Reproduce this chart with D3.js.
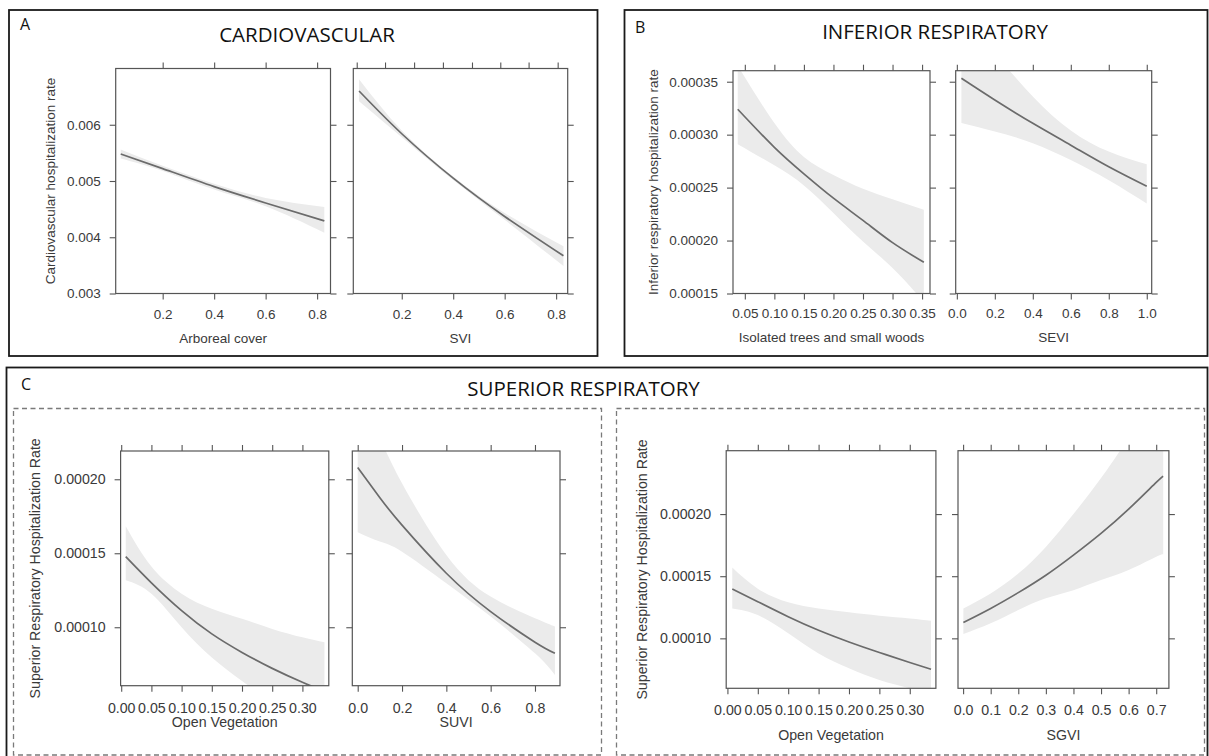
<!DOCTYPE html>
<html><head><meta charset="utf-8">
<script src="https://cdn.jsdelivr.net/npm/d3@7/dist/d3.min.js"></script>
<style>body{margin:0;background:#fff}svg{display:block}</style>
</head><body>
<svg id="chart" width="1209" height="756"></svg>
<script>
// ---------------- DATA ----------------
// A: Cardiovascular
const a1X   = [0.037, 0.2, 0.4, 0.6, 0.828];
const a1Fit = [0.00548, 0.00522, 0.00490, 0.00461, 0.00429];
const a1Lo  = [0.00540, 0.00518, 0.00485, 0.00455, 0.00408];
const a1Hi  = [0.00556, 0.00527, 0.00495, 0.00470, 0.00454];
const a2X   = [0.034, 0.2, 0.4, 0.6, 0.8285];
const a2Fit = [0.00660, 0.00584, 0.00505, 0.00437, 0.00367];
const a2Lo  = [0.00642, 0.00578, 0.00502, 0.00431, 0.00349];
const a2Hi  = [0.00681, 0.00590, 0.00508, 0.00443, 0.00384];
const aXTicks = [0.2, 0.4, 0.6, 0.8];
const a2TopTicks = [0.025, 0.135, 0.248, 0.360, 0.473, 0.583, 0.693, 0.806];
const aYTicks = [0.003, 0.004, 0.005, 0.006];

// B: Inferior respiratory
const b1X   = [0.038, 0.10, 0.15, 0.20, 0.25, 0.30, 0.353];
const b1Fit = [0.000324, 0.000288, 0.000263, 0.000240, 0.000219, 0.000198, 0.0001795];
const b1Lo  = [0.000291, 0.000271, 0.000252, 0.000226, 0.000199, 0.000174, 0.000142];
const b1Hi  = [0.000365, 0.000311, 0.000279, 0.000262, 0.000249, 0.000239, 0.000229];
const b2X   = [0.024, 0.2, 0.4, 0.6, 0.8, 1.0];
const b2Fit = [0.0003532, 0.0003327, 0.0003107, 0.0002901, 0.0002697, 0.0002513];
const b2Lo  = [0.000311, 0.000303, 0.000292, 0.000276, 0.000257, 0.000235];
const b2Hi  = [0.000400, 0.000375, 0.000336, 0.000304, 0.000284, 0.000272];
const b1XTicks = [0.05, 0.10, 0.15, 0.20, 0.25, 0.30, 0.35];
const b2XTicks = [0.0, 0.2, 0.4, 0.6, 0.8, 1.0];
const bYTicks = [0.00015, 0.00020, 0.00025, 0.00030, 0.00035];

// C: Superior respiratory (left block)
const c1X   = [0.0075, 0.05, 0.10, 0.15, 0.20, 0.25, 0.30, 0.3365];
const c1Fit = [0.0001477, 0.0001300, 0.0001112, 0.0000955, 0.0000830, 0.0000722, 0.0000628, 0.0000567];
const c1Lo  = [0.0001318, 0.0001227, 0.0001000, 0.0000795, 0.0000636, 0.0000500, 0.0000400, 0.0000350];
const c1Hi  = [0.0001682, 0.0001410, 0.0001227, 0.0001125, 0.0001057, 0.0000989, 0.0000932, 0.0000898];
const c2X   = [0.0, 0.1, 0.2, 0.4, 0.6, 0.8, 0.89];
const c2Fit = [0.000208, 0.0001875, 0.000169, 0.0001365, 0.0001106, 0.0000899, 0.0000824];
const c2Lo  = [0.0001642, 0.0001579, 0.0001511, 0.0001297, 0.0001072, 0.0000824, 0.0000678];
const c2Hi  = [0.000260, 0.000228, 0.0001973, 0.0001489, 0.0001207, 0.0001061, 0.0001005];
// C: Superior respiratory (right block)
const c3X   = [0.008, 0.05, 0.10, 0.15, 0.20, 0.25, 0.30, 0.335];
const c3Fit = [0.0001398, 0.0001295, 0.0001174, 0.0001065, 0.0000971, 0.0000886, 0.0000806, 0.0000751];
const c3Lo  = [0.0001241, 0.0001187, 0.0001040, 0.0000879, 0.0000759, 0.0000665, 0.0000598, 0.0000550];
const c3Hi  = [0.0001570, 0.0001400, 0.0001290, 0.0001241, 0.0001209, 0.0001182, 0.0001160, 0.0001141];
const c4X   = [0.001, 0.1, 0.2, 0.3, 0.4, 0.5, 0.6, 0.7, 0.7254];
const c4Fit = [0.0001128, 0.0001241, 0.0001368, 0.0001508, 0.0001670, 0.0001845, 0.0002040, 0.0002255, 0.0002305];
const c4Lo  = [0.0001035, 0.0001121, 0.0001228, 0.0001322, 0.0001388, 0.0001469, 0.0001550, 0.0001656, 0.0001676];
const c4Hi  = [0.0001241, 0.0001361, 0.0001521, 0.0001736, 0.0002000, 0.0002290, 0.0002620, 0.0003000, 0.0003100];
const c1XTicks = [0.00, 0.05, 0.10, 0.15, 0.20, 0.25, 0.30];
const c2XTicks = [0.0, 0.2, 0.4, 0.6, 0.8];
const c4XTicks = [0.0, 0.1, 0.2, 0.3, 0.4, 0.5, 0.6, 0.7];
const cYTicks = [0.00010, 0.00015, 0.00020];

// ---------------- DRAWING ----------------
const svg = d3.select("#chart");
svg.append("rect").attr("width", 1209).attr("height", 756).attr("fill", "#fff");

const AX_FONT = "'Liberation Sans', Arial, sans-serif";
const TITLE_FONT = "'Open Sans', sans-serif";
const INK = "#555";
const TXT = "#3a3a3a";

function frame(x0, y0, x1, y1, dashed) {
  svg.append("rect").attr("x", x0).attr("y", y0).attr("width", x1 - x0).attr("height", y1 - y0)
    .attr("fill", "none")
    .attr("stroke", dashed ? "#7a7a7a" : "#1a1a1a")
    .attr("stroke-width", dashed ? 1.3 : 1.8)
    .attr("stroke-dasharray", dashed ? "5,3.5" : null);
}
frame(9, 10, 597.5, 356, false);
frame(624.5, 10, 1207.5, 356, false);
frame(6.5, 367.5, 1207.5, 770, false);
frame(13.5, 408.5, 601.5, 755, true);
frame(616.5, 408.5, 1204.5, 755, true);

function label(x, y, t, size) {
  svg.append("text").attr("x", x).attr("y", y).text(t)
    .attr("font-family", TITLE_FONT).attr("font-size", size).attr("fill", "#111");
}
label(20, 30, "A", 16);
label(635, 33, "B", 16);
label(21, 390, "C", 16);
function title(x, y, t) {
  svg.append("text").attr("x", x).attr("y", y).text(t).attr("text-anchor", "middle")
    .attr("font-family", TITLE_FONT).attr("font-size", 20.5).attr("fill", "#111");
}
title(307, 41.5, "CARDIOVASCULAR");
title(935, 39, "INFERIOR RESPIRATORY");
title(583.5, 396, "SUPERIOR RESPIRATORY");

let clipN = 0;
function plot(c) {
  const x = d3.scaleLinear().domain(c.xDom).range([c.x0, c.x1]);
  const y = d3.scaleLinear().domain(c.yDom).range([c.y1, c.y0]);
  const id = "clip" + (clipN++);
  svg.append("clipPath").attr("id", id).append("rect")
    .attr("x", c.x0).attr("y", c.y0).attr("width", c.x1 - c.x0).attr("height", c.y1 - c.y0);
  const pts = c.xs.map((v, i) => ({ x: v, f: c.fit[i], lo: c.lo[i], hi: c.hi[i] }));
  const g = svg.append("g").attr("clip-path", `url(#${id})`);
  g.append("path").datum(pts)
    .attr("d", d3.area().x(d => x(d.x)).y0(d => y(d.lo)).y1(d => y(d.hi)).curve(d3.curveNatural))
    .attr("fill", "#ebebeb");
  g.append("path").datum(pts)
    .attr("d", d3.line().x(d => x(d.x)).y(d => y(d.f)).curve(d3.curveNatural))
    .attr("fill", "none").attr("stroke", "#6b6b6b").attr("stroke-width", 1.7);

  function styleAxis(sel) {
    sel.select(".domain").remove();
    sel.selectAll(".tick line").attr("stroke", INK).attr("stroke-width", 1.1);
    sel.selectAll(".tick text").attr("fill", TXT);
    sel.attr("font-family", AX_FONT).attr("font-size", c.fs);
  }
  svg.append("g").attr("transform", `translate(0,${c.y1})`)
    .call(d3.axisBottom(x).tickValues(c.xTicks).tickSize(6).tickPadding(c.xPad)
      .tickFormat(d3.format(c.xFmt))).call(styleAxis);
  svg.append("g").attr("transform", `translate(0,${c.y0})`)
    .call(d3.axisTop(x).tickValues(c.topTicks || c.xTicks).tickSize(6).tickFormat(""))
    .call(styleAxis);
  svg.append("g").attr("transform", `translate(${c.x0},0)`)
    .call(d3.axisLeft(y).tickValues(c.yTicks).tickSize(6).tickPadding(9)
      .tickFormat(c.yLabels ? d3.format(c.yFmt) : "")).call(styleAxis);
  svg.append("g").attr("transform", `translate(${c.x1},0)`)
    .call(d3.axisRight(y).tickValues(c.yTicks).tickSize(6).tickFormat("")).call(styleAxis);
  svg.append("rect").attr("x", c.x0).attr("y", c.y0).attr("width", c.x1 - c.x0).attr("height", c.y1 - c.y0)
    .attr("fill", "none").attr("stroke", INK).attr("stroke-width", 1.2);
  svg.append("text").attr("x", (c.x0 + c.x1) / 2).attr("y", c.xTitleY).attr("dy", "0.35em")
    .attr("text-anchor", "middle").text(c.xTitle)
    .attr("font-family", AX_FONT).attr("font-size", c.fs).attr("fill", TXT);
  if (c.yTitle) {
    svg.append("text").attr("transform", `translate(${c.yTitleX},${(c.y0 + c.y1) / 2}) rotate(-90)`)
      .attr("dy", "0.35em").attr("text-anchor", "middle").text(c.yTitle)
      .attr("font-family", AX_FONT).attr("font-size", c.fs).attr("fill", TXT);
  }
}

// Panel A
const aY = { yDom: [0.003, 0.007], y0: 68.5, y1: 293.5, yTicks: aYTicks, yFmt: ".3f", fs: 13.5, xPad: 10, xTitleY: 338 };
plot(Object.assign({}, aY, { x0: 115.7, x1: 330.5, xDom: [0.0175, 0.852], xs: a1X, fit: a1Fit, lo: a1Lo, hi: a1Hi,
  xTicks: aXTicks, xFmt: ".1f", yLabels: true, xTitle: "Arboreal cover",
  yTitle: "Cardiovascular hospitalization rate", yTitleX: 50 }));
plot(Object.assign({}, aY, { x0: 353.3, x1: 567.7, xDom: [0.0117, 0.845], xs: a2X, fit: a2Fit, lo: a2Lo, hi: a2Hi,
  xTicks: aXTicks, topTicks: a2TopTicks, xFmt: ".1f", yLabels: false, xTitle: "SVI" }));

// Panel B
const bY = { yDom: [0.00015, 0.0003604], y0: 70.7, y1: 293.5, yTicks: bYTicks, yFmt: ".5f", fs: 13.5, xPad: 9, xTitleY: 337 };
plot(Object.assign({}, bY, { x0: 733, x1: 930, xDom: [0.030, 0.3634], xs: b1X, fit: b1Fit, lo: b1Lo, hi: b1Hi,
  xTicks: b1XTicks, xFmt: ".2f", yLabels: true, xTitle: "Isolated trees and small woods",
  yTitle: "Inferior respiratory hospitalization rate", yTitleX: 653 }));
plot(Object.assign({}, bY, { x0: 955.7, x1: 1151.7, xDom: [-0.006, 1.026], xs: b2X, fit: b2Fit, lo: b2Lo, hi: b2Hi,
  xTicks: b2XTicks, xFmt: ".1f", yLabels: false, xTitle: "SEVI" }));

// Panel C left block
const cLY = { yDom: [0.0000605, 0.0002191], y0: 451, y1: 685.7, yTicks: cYTicks, yFmt: ".5f", fs: 14.2, xPad: 11, xTitleY: 722 };
plot(Object.assign({}, cLY, { x0: 120.6, x1: 328.8, xDom: [-0.001, 0.3437], xs: c1X, fit: c1Fit, lo: c1Lo, hi: c1Hi,
  xTicks: c1XTicks, xFmt: ".2f", yLabels: true, xTitle: "Open Vegetation",
  yTitle: "Superior Respiratory Hospitalization Rate", yTitleX: 35 }));
plot(Object.assign({}, cLY, { x0: 352.3, x1: 560, xDom: [-0.0244, 0.9129], xs: c2X, fit: c2Fit, lo: c2Lo, hi: c2Hi,
  xTicks: c2XTicks, xFmt: ".1f", yLabels: false, xTitle: "SUVI" }));

// Panel C right block
const cRY = { yDom: [0.0000598, 0.000251], y0: 450.7, y1: 688.3, yTicks: cYTicks, yFmt: ".5f", fs: 14.2, xPad: 11, xTitleY: 735 };
plot(Object.assign({}, cRY, { x0: 726.2, x1: 935.9, xDom: [-0.002, 0.343], xs: c3X, fit: c3Fit, lo: c3Lo, hi: c3Hi,
  xTicks: c1XTicks, xFmt: ".2f", yLabels: true, xTitle: "Open Vegetation",
  yTitle: "Superior Respiratory Hospitalization Rate", yTitleX: 642 }));
plot(Object.assign({}, cRY, { x0: 958, x1: 1168.9, xDom: [-0.0185, 0.746], xs: c4X, fit: c4Fit, lo: c4Lo, hi: c4Hi,
  xTicks: c4XTicks, xFmt: ".1f", yLabels: false, xTitle: "SGVI" }));
</script>
</body></html>
